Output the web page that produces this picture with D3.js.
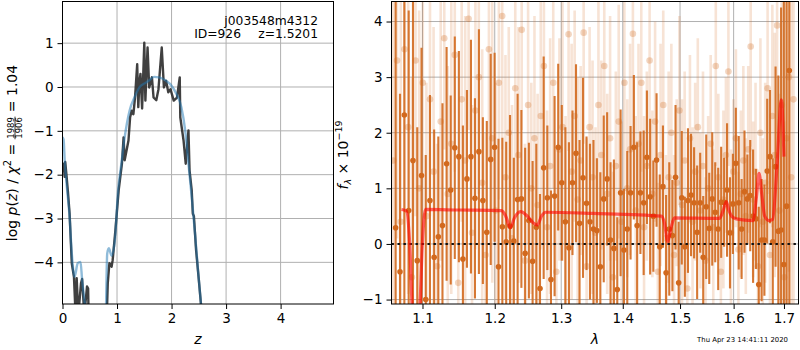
<!DOCTYPE html>
<html>
<head>
<meta charset="UTF-8" />
<script src="https://d3js.org/d3.v7.min.js"></script>
<script>if (typeof d3 === "undefined") document.write('<script src="https://cdn.jsdelivr.net/npm/d3@7/dist/d3.min.js"><\/script>');</script>
<style>
  body { margin: 0; background: #fff; }
  svg { font-family: "DejaVu Sans", sans-serif; }
</style>
</head>
<body>
<div id="chart"></div>
<script>
// ---- left panel: log p(z) ----
const pzZ      = [0.00,0.02,0.04,0.05,0.07,0.10,0.13,0.17,0.21,0.24,0.26,0.29,0.34,0.36,0.40,0.45,0.47,0.48,0.60,0.79,0.82,0.83,0.86,0.90,0.92,0.97,1.03,1.09,1.12,1.14,1.21,1.24,1.27,1.30,1.33,1.37,1.39,1.41,1.43,1.46,1.50,1.52,1.56,1.59,1.64,1.67,1.72,1.76,1.82,1.86,1.90,1.94,1.98,2.04,2.10,2.15,2.16,2.22,2.26,2.31,2.33,2.37,2.39,2.41,2.45,2.50,2.55,2.70,4.97];
const pzLog    = [-1.85,-1.75,-2.05,-1.71,-1.97,-2.4,-2.88,-4.02,-4.33,-5.2,-4.36,-5.2,-4.47,-4.38,-5.2,-4.55,-4.6,-5.3,-6,-6,-4.9,-4.48,-4.02,-4.1,-3.95,-3.27,-2.36,-1.75,-1.15,-1.67,-1.22,-0.69,-0.54,-0.62,-0.24,0.52,-0.46,0.1,0.3,-0.49,1.01,-0.31,0.9,-0.01,0.22,-0.24,-0.3,-0.05,0.9,-0.01,0.14,-0.12,-0.05,-0.31,-0.24,0.22,-0.69,-1.22,-1.75,-0.99,-1.9,-2.36,-2.89,-2.95,-3.72,-4.4,-5.1,-7,-25];
const smoothZ  = [0.00,0.02,0.04,0.08,0.13,0.17,0.22,0.28,0.33,0.36,0.41,0.50,0.78,0.82,0.85,0.90,0.96,1.02,1.08,1.14,1.23,1.32,1.41,1.53,1.60,1.68,1.77,1.90,2.00,2.09,2.18,2.25,2.31,2.37,2.43,2.49,2.54,2.70,4.97];
const smoothLog= [-1.15,-1.2,-1.67,-2.28,-2.96,-3.79,-4.33,-4.02,-3.99,-4.4,-4.95,-6,-6,-3.8,-3.68,-3.85,-3.5,-2.36,-1.75,-1.15,-0.54,-0.24,-0.01,0.1,0.16,0.23,0.22,0.14,0.03,-0.16,-0.46,-0.99,-1.75,-2.51,-3.34,-4.25,-4.95,-7,-25];
const zTicks   = [0, 1, 2, 3, 4];
const pTicks   = [-4, -3, -2, -1, 0, 1];
const objName  = "j003548m4312";
const objId    = "ID=926";
const objZ     = "z=1.5201";
const chiNum = "1989", chiDen = "1906", chiVal = "1.04";

// ---- right panel: spectrum ----
const darkLam0 = 1.065, darkStep = 0.005617;
const darkFlux = [0.29,-0.5,2.32,0.6,1.5,-0.3,1.23,-1.0,0.78,-0.24,0.13,0.33,1.44,0.97,1.73,1.57,-0.27,1.17,1.57,0.82,1.66,0.78,0.21,1.52,1.74,-0.41,0.31,0.04,0.32,0.05,0.8,0.81,-0.17,0.42,-0.31,0.3,-0.8,1.37,0.83,-0.64,0.86,1.74,1.1,0.4,-0.07,1.1,1.63,0.37,1.19,0.73,0.4,0.27,0.24,-0.41,0.81,1.17,0.07,-0.08,-0.82,0.92,-0.11,0.27,0.92,1.74,0.33,0.92,0.74,1.56,0.85,0.5,1.51,-0.05,1.03,-0.52,0.27,0.15,1.2,-0.7,0.83,-0.05,0.78,0.88,0.74,0.21,0.74,-0.24,0.67,0.28,0.81,0.57,0.27,0.75,0.75,0.97,0.2,0.72,1.45,0.74,0.27,0.94,0.81,0.87,0.5,0.45,-0.73,0.07,0.07,1.31,1.57,0.04,1.39,0.23,0.25,-0.37,0.68,3.12];
const darkErr  = [5.0,3.2,4.5,3.6,2.9,2.4,2.3,
  2.6,1.9,2.3,1.8,2.2,2.1,1.7,2.0,1.9,2.4,1.6,2.1,1.8,2.2,1.5,2.0,1.9,1.7,2.3,1.6,1.8,2.0,1.5,1.9,
  1.6,1.9,1.4,1.8,1.5,1.7,2.0,1.3,1.6,1.8,1.5,1.4,1.7,1.9,1.3,1.6,1.5,1.8,1.2,1.4,1.6,1.3,1.7,1.5,1.2,1.4,1.6,1.3,1.5,1.1,
  1.4,1.2,1.3,1.5,1.1,1.3,1.2,1.4,1.0,1.2,1.3,1.1,1.4,1.2,1.0,1.3,1.1,1.2,0.9,1.3,1.1,1.0,1.2,0.9,1.1,1.3,1.0,1.2,0.9,1.1,1.0,0.8,1.2,1.0,0.9,
  1.0,1.2,0.9,1.1,0.8,1.0,1.2,0.9,1.4,1.1,1.0,1.3,1.2,1.5,1.8,
  2.8,4.0,5.5,6.0,6.0];

const lightLam0 = 1.062, lightStep = 0.0048;
const lightFlux = [1.5,3.3,0.4,3.5,2.1,-0.6,3.3,1.0,2.9,
  0.5,2.6,1.3,-0.4,2.2,3.7,0.9,1.8,3.4,-0.7,2.6,1.5,4.05,0.2,2.4,3.0,1.1,-0.2,3.5,1.9,0.6,2.9,4.1,
  1.2,2.0,0.1,2.8,1.6,3.85,-0.3,2.5,1.0,1.9,0.7,2.3,3.2,0.3,1.4,2.9,-0.5,1.7,2.1,0.5,3.77,1.3,
  2.3,0.8,1.5,3.8,-0.4,2.1,1.2,0.2,2.5,1.6,3.2,0.9,1.9,-0.6,1.4,2.2,0.4,2.9,1.0,1.7,3.78,0.6,
  1.8,2.9,0.3,1.4,3.3,0.9,2.2,-0.5,1.6,2.5,0.1,1.2,2.0,-0.2,1.1,2.4,0.7,1.5,-0.8,1.9,0.4,1.3,
  2.1,0.6,1.4,-0.3,1.0,1.8,0.3,3.2,1.2,-0.5,0.8,1.6,3.1,0.2,1.3,1.9,-0.1,0.9,1.5,0.5,
  1.7,3.55,0.8,1.3,-0.4,2.0,0.4,1.1,2.8,-0.2,2.3,1.6,3.93,0.6,2.5,-0.6,1.9,3.0,1.2,2.6];
const lightErr = [3.8,3.2,4.0,3.5,3.0,3.6,2.8,3.2,2.9,
  2.4,2.1,2.6,2.2,2.5,2.0,2.3,2.7,2.1,2.4,2.2,2.6,2.0,2.3,2.5,2.1,2.4,2.2,2.0,2.6,2.3,2.1,2.4,
  2.2,1.9,2.4,2.0,2.3,1.8,2.1,2.5,1.9,2.2,2.0,2.4,1.8,2.1,2.3,1.9,2.2,2.0,2.4,1.8,2.1,2.3,
  1.9,2.2,1.7,2.0,2.3,1.8,2.1,1.9,2.2,1.7,2.0,1.8,2.2,1.9,1.7,2.1,1.8,2.0,1.6,1.9,2.1,1.7,
  1.8,1.6,2.0,1.7,1.9,1.5,1.8,1.6,2.0,1.7,1.5,1.9,1.6,1.8,1.5,1.7,1.9,1.6,1.8,1.5,1.7,1.6,
  1.6,1.4,1.7,1.5,1.3,1.6,1.4,1.8,1.5,1.3,1.6,1.4,1.7,1.5,1.3,1.6,1.4,1.5,1.7,1.4,
  1.5,1.8,1.4,1.6,1.5,1.7,1.5,1.8,1.9,1.6,2.0,2.2,2.4,2.1,2.6,2.8,3.2,3.5,4.0,4.5];

const modelLam = [1.0725,1.079,1.083,1.087,1.0915,1.096,1.100,1.104,1.15,1.2098,1.216,1.2227,1.2289,1.238,1.248,1.256,1.263,1.270,1.276,1.35,1.4667,1.472,1.478,1.484,1.490,1.573,1.580,1.586,1.591,1.596,1.605,1.638,1.644,1.6497,1.655,1.661,1.6696,1.677,1.6857,1.6947,1.700];
const modelFlux= [0.62,0.59,0.05,-1.3,-1.7,-1.3,0.05,0.62,0.61,0.60,0.5,0.29,0.47,0.58,0.5,0.39,0.34,0.51,0.57,0.55,0.5,0.38,0.04,0.3,0.47,0.46,0.6,0.76,0.6,0.5,0.45,0.42,0.8,1.27,0.9,0.5,0.42,0.44,1.39,2.59,1.57];
const lamTicks  = [1.1, 1.2, 1.3, 1.4, 1.5, 1.6, 1.7];
const fluxTicks = [-1, 0, 1, 2, 3, 4];
const stamp = "Thu Apr 23 14:41:11 2020";

const W = 800, H = 350;
const svg = d3.select("#chart").append("svg").attr("width", W).attr("height", H);

const L = {x0: 62.5, x1: 333.5, y0: 1.5, y1: 304};
const R = {x0: 391.5, x1: 798.5, y0: 1.5, y1: 304};

const zX = d3.scaleLinear().domain([0, 4.97]).range([L.x0, L.x1]);
const pY = d3.scaleLinear().domain([-4.95, 1.95]).range([L.y1, L.y0]);
const lamX = d3.scaleLog().domain([1.0597, 1.730]).range([R.x0, R.x1]);
const fY = d3.scaleLinear().domain([-1.08, 4.36]).range([R.y1, R.y0]);

const defs = svg.append("defs");
defs.append("clipPath").attr("id", "clipL").append("rect")
  .attr("x", L.x0).attr("y", L.y0).attr("width", L.x1 - L.x0).attr("height", L.y1 - L.y0);
defs.append("clipPath").attr("id", "clipR").append("rect")
  .attr("x", R.x0).attr("y", R.y0).attr("width", R.x1 - R.x0).attr("height", R.y1 - R.y0);

function grid(g, xs, xScale, ys, yScale, box) {
  g.selectAll(".gx").data(xs).join("line")
    .attr("x1", d => xScale(d)).attr("x2", d => xScale(d))
    .attr("y1", box.y0).attr("y2", box.y1)
    .attr("stroke", "#b0b0b0").attr("stroke-width", 1);
  g.selectAll(".gy").data(ys).join("line")
    .attr("x1", box.x0).attr("x2", box.x1)
    .attr("y1", d => yScale(d)).attr("y2", d => yScale(d))
    .attr("stroke", "#b0b0b0").attr("stroke-width", 1);
}

function styleAxis(g) {
  g.select(".domain").remove();
  g.selectAll(".tick line").attr("stroke", "#000").attr("stroke-width", 1);
  g.selectAll(".tick text").attr("font-size", 13.5).attr("fill", "#000")
    .attr("font-family", "DejaVu Sans, sans-serif");
}

// ---------- left panel ----------
const gl = svg.append("g");
grid(gl.append("g"), zTicks.slice(1), zX, pTicks, pY, L);

const curves = gl.append("g").attr("clip-path", "url(#clipL)");
curves.append("path")
  .datum(d3.zip(pzZ, pzLog))
  .attr("fill", "none").attr("stroke", "#2b2b2b").attr("stroke-opacity", 0.9)
  .attr("stroke-width", 2.4).attr("stroke-linejoin", "round")
  .attr("d", d3.line().x(d => zX(d[0])).y(d => pY(d[1])));
curves.append("path")
  .datum(d3.zip(smoothZ, smoothLog))
  .attr("fill", "none").attr("stroke", "#1f77b4").attr("stroke-opacity", 0.5)
  .attr("stroke-width", 2.4)
  .attr("d", d3.line().curve(d3.curveMonotoneX).x(d => zX(d[0])).y(d => pY(d[1])));

gl.append("rect").attr("x", L.x0).attr("y", L.y0).attr("width", L.x1 - L.x0).attr("height", L.y1 - L.y0)
  .attr("fill", "none").attr("stroke", "#000").attr("stroke-width", 1);

gl.append("g").attr("transform", `translate(0,${L.y1})`)
  .call(d3.axisBottom(zX).tickValues(zTicks).tickFormat(d3.format("d")).tickSize(5).tickPadding(4))
  .call(styleAxis);
gl.append("g").attr("transform", `translate(${L.x0},0)`)
  .call(d3.axisLeft(pY).tickValues(pTicks).tickFormat(d3.format("d")).tickSize(5).tickPadding(4))
  .call(styleAxis);

gl.append("text").attr("x", 318).attr("y", 24.5).attr("text-anchor", "end")
  .attr("font-size", 12.3).text(objName);
gl.append("text").attr("x", 241).attr("y", 38).attr("text-anchor", "end")
  .attr("font-size", 12.3).text(objId);
gl.append("text").attr("x", 318).attr("y", 38).attr("text-anchor", "end")
  .attr("font-size", 12.3).text(objZ);

gl.append("text").attr("x", (L.x0 + L.x1) / 2).attr("y", 344).attr("text-anchor", "middle")
  .attr("font-size", 14).attr("font-style", "italic").text("z");

// rotated y label with stacked fraction
const ylab = svg.append("g").attr("transform", "translate(0,153) rotate(-90)");
const p1 = ylab.append("text").attr("font-size", 14).attr("y", 16.5);
p1.append("tspan").text("log ");
p1.append("tspan").attr("font-style", "italic").text("p");
p1.append("tspan").text("(");
p1.append("tspan").attr("font-style", "italic").text("z");
p1.append("tspan").text(") / ");
p1.append("tspan").attr("font-style", "italic").text("χ");
p1.append("tspan").attr("font-size", 10).attr("dy", -6).text("2");
p1.append("tspan").attr("dy", 6).text("\u00a0=\u00a0");
const w1 = p1.node().getComputedTextLength();
const numT = ylab.append("text").attr("font-size", 8.5).attr("y", 13.6).attr("text-anchor", "middle").text(chiNum);
const denT = ylab.append("text").attr("font-size", 8.5).attr("y", 21.6).attr("text-anchor", "middle").text(chiDen);
const fw = Math.max(numT.node().getComputedTextLength(), denT.node().getComputedTextLength()) + 1;
const p3 = ylab.append("text").attr("font-size", 14).attr("y", 16.5).text("\u00a0=\u00a0" + chiVal);
const w3 = p3.node().getComputedTextLength();
const total = w1 + fw + w3;
const off = -total / 2;
p1.attr("x", off);
numT.attr("x", off + w1 + fw / 2);
denT.attr("x", off + w1 + fw / 2);
ylab.append("line").attr("x1", off + w1).attr("x2", off + w1 + fw)
  .attr("y1", 15).attr("y2", 15).attr("stroke", "#000").attr("stroke-width", 0.8);
p3.attr("x", off + w1 + fw);

// ---------- right panel ----------
const gr = svg.append("g");
grid(gr.append("g"), lamTicks, lamX, fluxTicks, fY, R);

const spec = gr.append("g").attr("clip-path", "url(#clipR)");
const orange = "#d2691e";
const light = lightFlux.map((f, i) => ({lam: lightLam0 + i * lightStep, f, e: lightErr[i]}));
const dark = darkFlux.map((f, i) => ({lam: darkLam0 + i * darkStep, f, e: darkErr[i]}));

spec.append("g").selectAll("line").data(light).join("line")
  .attr("x1", d => lamX(d.lam)).attr("x2", d => lamX(d.lam))
  .attr("y1", d => fY(d.f - d.e)).attr("y2", d => fY(d.f + d.e))
  .attr("stroke", orange).attr("stroke-opacity", 0.19).attr("stroke-width", 2.6);
spec.append("g").selectAll("circle").data(light).join("circle")
  .attr("cx", d => lamX(d.lam)).attr("cy", d => fY(d.f)).attr("r", 3.3)
  .attr("fill", orange).attr("fill-opacity", 0.28);

spec.append("g").selectAll("line").data(dark).join("line")
  .attr("x1", d => lamX(d.lam)).attr("x2", d => lamX(d.lam))
  .attr("y1", d => fY(d.f - d.e)).attr("y2", d => fY(d.f + d.e))
  .attr("stroke", orange).attr("stroke-opacity", 0.9).attr("stroke-width", 2.1);
spec.append("g").selectAll("circle").data(dark).join("circle")
  .attr("cx", d => lamX(d.lam)).attr("cy", d => fY(d.f)).attr("r", 2.8)
  .attr("fill", orange);

spec.append("line").attr("x1", R.x0).attr("x2", R.x1).attr("y1", fY(0)).attr("y2", fY(0))
  .attr("stroke", "#111").attr("stroke-width", 2).attr("stroke-dasharray", "2.4,3.6");

spec.append("path")
  .datum(d3.zip(modelLam, modelFlux))
  .attr("fill", "none").attr("stroke", "red").attr("stroke-opacity", 0.6)
  .attr("stroke-width", 3.2).attr("stroke-linejoin", "round")
  .attr("d", d3.line().curve(d3.curveMonotoneX).x(d => lamX(d[0])).y(d => fY(d[1])));

gr.append("rect").attr("x", R.x0).attr("y", R.y0).attr("width", R.x1 - R.x0).attr("height", R.y1 - R.y0)
  .attr("fill", "none").attr("stroke", "#000").attr("stroke-width", 1);

gr.append("g").attr("transform", `translate(0,${R.y1})`)
  .call(d3.axisBottom(lamX).tickValues(lamTicks).tickFormat(d3.format(".1f")).tickSize(5).tickPadding(4))
  .call(styleAxis);
gr.append("g").attr("transform", `translate(${R.x0},0)`)
  .call(d3.axisLeft(fY).tickValues(fluxTicks).tickFormat(d3.format("d")).tickSize(5).tickPadding(4))
  .call(styleAxis);

gr.append("text").attr("x", (R.x0 + R.x1) / 2).attr("y", 344).attr("text-anchor", "middle")
  .attr("font-size", 14).attr("font-style", "italic").text("λ");

const rlab = gr.append("text").attr("transform", "translate(348,155) rotate(-90)")
  .attr("text-anchor", "middle").attr("font-size", 14);
rlab.append("tspan").attr("font-style", "italic").text("f");
rlab.append("tspan").attr("font-style", "italic").attr("font-size", 9.5).attr("dy", 3).text("λ");
rlab.append("tspan").attr("dy", -3).text("\u00a0×\u00a010");
rlab.append("tspan").attr("font-size", 9.5).attr("dy", -6).text("−19");

svg.append("text").attr("x", 788).attr("y", 341.5).attr("text-anchor", "end")
  .attr("font-size", 6.9).text(stamp);
</script>
</body>
</html>
